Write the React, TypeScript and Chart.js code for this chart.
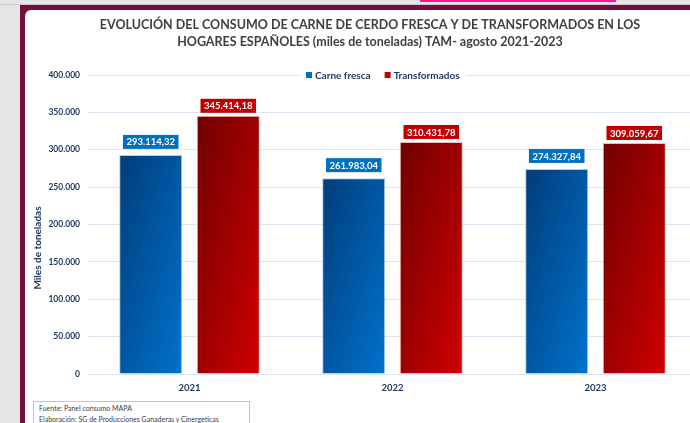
import React, { useEffect, useRef } from "react";
import { Chart, registerables } from "chart.js";

Chart.register(...registerables);

const YEARS = ["2021", "2022", "2023"];
const CARNE_FRESCA = [293114.32, 261983.04, 274327.84];
const TRANSFORMADOS = [345414.18, 310431.78, 309059.67];
const SERIES_NAMES = ["Carne fresca", "Transformados"];
const Y_MIN = 0;
const Y_MAX = 400000;
const Y_STEP = 50000;
const TITLE_LINES = [
  "EVOLUCIÓN DEL CONSUMO DE CARNE DE CERDO FRESCA Y DE TRANSFORMADOS EN LOS",
  "HOGARES ESPAÑOLES (miles de toneladas) TAM- agosto 2021-2023",
];
const Y_TITLE = "Miles de toneladas";
const SOURCE_LINES = [
  "Fuente: Panel consumo MAPA",
  "Elaboración: SG de Producciones Ganaderas y Cinergeticas",
];

const CAT_PCT = 0.764;
const BAR_PCT = 0.813;
const FONT = "Lato, 'Open Sans', sans-serif";
const NAVY = "#1f3864";

function fmt(v: number, dec: number): string {
  const fixed = v.toFixed(dec);
  const [int, frac] = fixed.split(".");
  const withDots = int.replace(/\B(?=(\d{3})+(?!\d))/g, ".");
  return frac ? withDots + "," + frac : withDots;
}

function makeGrad(dark: string, light: string) {
  return (ctx: any) => {
    const chart = ctx.chart;
    const xs = chart.scales && chart.scales.x;
    const ys = chart.scales && chart.scales.y;
    if (!xs || !ys || ctx.type !== "data" || !chart.chartArea) return light;
    const i = ctx.dataIndex;
    const d = ctx.datasetIndex;
    const cat = xs.width / YEARS.length;
    const slot = (cat * CAT_PCT) / 2;
    const cx = xs.getPixelForValue(i) + (d - 0.5) * slot;
    const w = slot * BAR_PCT;
    const top = ys.getPixelForValue(ctx.raw);
    const base = ys.getPixelForValue(0);
    const h = Math.max(1, base - top);
    const left = cx - w / 2;
    const s = h * h + w * w;
    const dx = (2 * w * h * h) / s;
    const dy = (2 * w * w * h) / s;
    const g = chart.ctx.createLinearGradient(left, top, left + dx, top + dy);
    g.addColorStop(0, dark);
    g.addColorStop(1, light);
    return g;
  };
}

const SERIES_SOLID = ["#0070c0", "#c00000"];
const LABEL_GAP = [6, 3];

const decorPlugin = {
  id: "decor",
  afterDraw(chart: any) {
    const c = chart.ctx;
    c.save();
    // title
    c.fillStyle = "#404040";
    c.font = `bold 12.5px ${FONT}`;
    c.textAlign = "center";
    c.textBaseline = "middle";
    c.fillText(TITLE_LINES[0], 370, 25);
    c.fillText(TITLE_LINES[1], 370, 42);
    // y title
    c.save();
    c.translate(38, 248);
    c.rotate(-Math.PI / 2);
    c.fillStyle = NAVY;
    c.font = `bold 10px ${FONT}`;
    c.fillText(Y_TITLE, 0, 0);
    c.restore();
    // legend
    c.fillStyle = "#ffffff";
    c.fillRect(300, 69, 166, 13);
    c.font = `bold 10px ${FONT}`;
    c.textAlign = "left";
    let x = 306;
    SERIES_NAMES.forEach((name, i) => {
      c.fillStyle = SERIES_SOLID[i];
      c.fillRect(x, 72, 6, 6);
      c.fillStyle = NAVY;
      c.fillText(name, x + 9, 75.5);
      x += 9 + c.measureText(name).width + 14;
    });
    c.restore();
  },
};

const valueLabelPlugin = {
  id: "valueLabels",
  afterDatasetsDraw(chart: any) {
    const c = chart.ctx;
    c.save();
    c.font = `bold 9.5px ${FONT}`;
    c.textAlign = "center";
    c.textBaseline = "middle";
    chart.data.datasets.forEach((ds: any, di: number) => {
      const meta = chart.getDatasetMeta(di);
      meta.data.forEach((el: any, i: number) => {
        const txt = fmt(ds.data[i], 2);
        const w = c.measureText(txt).width + 7;
        const h = 14;
        const bottom = el.y - LABEL_GAP[di];
        c.fillStyle = SERIES_SOLID[di];
        c.fillRect(el.x - w / 2, bottom - h, w, h);
        c.fillStyle = "#ffffff";
        c.fillText(txt, el.x, bottom - h / 2 + 0.5);
      });
    });
    c.restore();
  },
};

export default function App() {
  const ref = useRef<HTMLCanvasElement>(null);
  useEffect(() => {
    if (!ref.current) return;
    const chart = new Chart(ref.current, {
      type: "bar",
      data: {
        labels: YEARS,
        datasets: [
          {
            label: SERIES_NAMES[0],
            data: CARNE_FRESCA,
            backgroundColor: makeGrad("#003d7a", "#0072cc"),
            borderColor: "rgba(150,185,225,0.7)",
            borderWidth: 1,
            categoryPercentage: CAT_PCT,
            barPercentage: BAR_PCT,
          },
          {
            label: SERIES_NAMES[1],
            data: TRANSFORMADOS,
            backgroundColor: makeGrad("#700000", "#d00000"),
            borderColor: "rgba(230,170,170,0.8)",
            borderWidth: 1,
            categoryPercentage: CAT_PCT,
            barPercentage: BAR_PCT,
          },
        ],
      },
      options: {
        responsive: false,
        animation: false,
        layout: { padding: { top: 75, right: 3, left: 0, bottom: 0 } },
        plugins: {
          legend: { display: false },
          title: { display: false },
          tooltip: { enabled: false },
        },
        scales: {
          x: {
            grid: { display: false, drawTicks: false },
            border: { display: false },
            ticks: {
              color: NAVY,
              font: { family: FONT, size: 9.5, weight: "bold" },
              padding: 8,
            },
            afterFit: (s: any) => {
              s.height = 423 - 374;
            },
          },
          y: {
            min: Y_MIN,
            max: Y_MAX,
            grid: { color: "#dce6f2", lineWidth: 1, drawTicks: false },
            border: { display: false },
            ticks: {
              stepSize: Y_STEP,
              color: NAVY,
              font: { family: FONT, size: 8.5, weight: "bold" },
              padding: 8,
              callback: (v: any) => fmt(Number(v), 0),
            },
            afterFit: (s: any) => {
              s.width = 88;
            },
          },
        },
      },
      plugins: [valueLabelPlugin, decorPlugin],
    });
    return () => chart.destroy();
  }, []);

  return (
    <div
      style={{
        position: "fixed",
        left: 0,
        top: 0,
        width: 690,
        height: 423,
        overflow: "hidden",
        background: "#e6e6e6",
      }}
    >
      <div style={{ position: "absolute", left: 0, top: 4, width: 690, height: 1, background: "#c8c8c8" }} />
      <div style={{ position: "absolute", left: 420, top: 0, width: 196, height: 2, background: "#ff1493" }} />
      <div
        style={{
          position: "absolute",
          left: 20,
          top: 5,
          width: 700,
          height: 430,
          background: "#770d3e",
        }}
      />
      <div
        style={{
          position: "absolute",
          left: 25,
          top: 10,
          width: 700,
          height: 430,
          background: "#ffffff",
          borderTopLeftRadius: 6,
        }}
      />
      <canvas
        ref={ref}
        width={700}
        height={423}
        style={{ position: "absolute", left: 0, top: 0, width: 700, height: 423 }}
      />
      <div
        style={{
          position: "absolute",
          left: 33,
          top: 401,
          width: 217,
          height: 30,
          border: "1px solid #c4c4c4",
          background: "#ffffff",
          fontFamily: FONT,
          fontSize: 7,
          color: "#404040",
          lineHeight: "11px",
          padding: "1px 0 0 5px",
          boxSizing: "border-box",
        }}
      >
        {SOURCE_LINES.map((l) => (
          <div key={l}>{l}</div>
        ))}
      </div>
    </div>
  );
}
